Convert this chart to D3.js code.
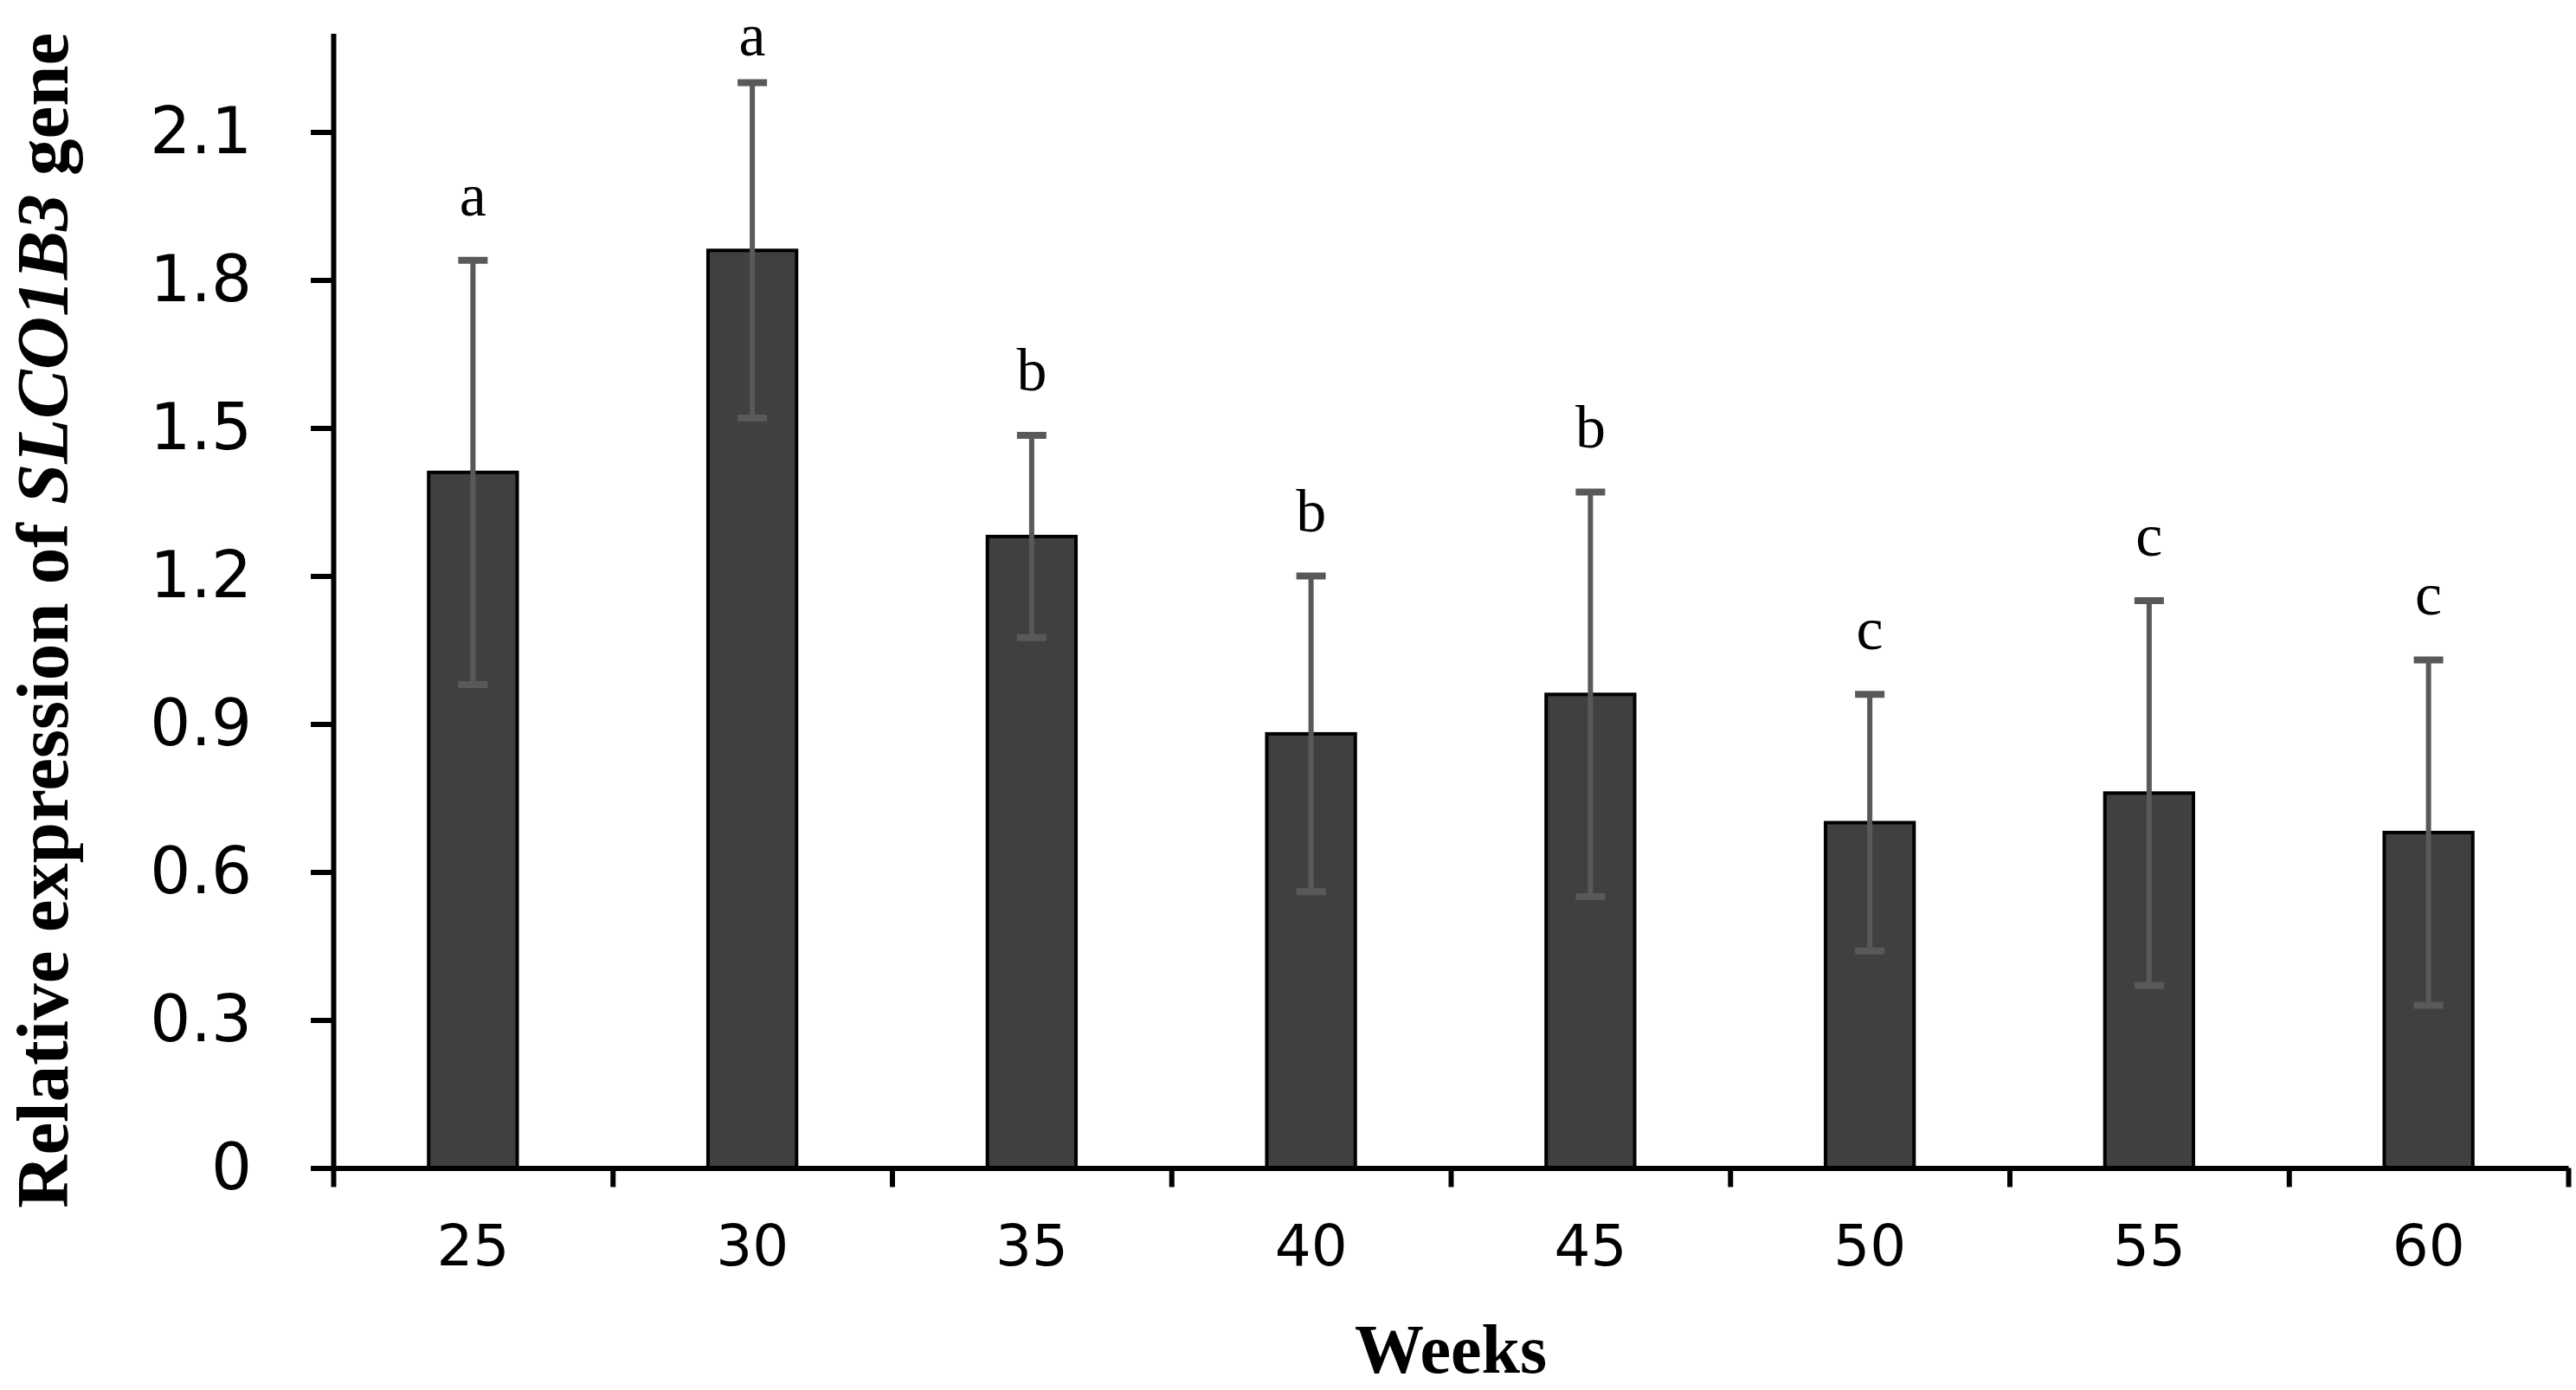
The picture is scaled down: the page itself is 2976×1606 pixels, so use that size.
<!DOCTYPE html>
<html>
<head>
<meta charset="utf-8">
<script src="https://cdn.jsdelivr.net/npm/d3@7/dist/d3.min.js"></script>
<style>
  html, body { margin: 0; padding: 0; background: #ffffff; }
  svg { display: block; }
</style>
</head>
<body>
<div id="chart"></div>
<script>
// ---- data ----
const weeks = ["25", "30", "35", "40", "45", "50", "55", "60"];
const means = [1.41, 1.86, 1.28, 0.88, 0.96, 0.70, 0.76, 0.68];
const errors = [0.43, 0.34, 0.205, 0.32, 0.41, 0.26, 0.39, 0.35];
const letters = ["a", "a", "b", "b", "b", "c", "c", "c"];
const yTicks = [0, 0.3, 0.6, 0.9, 1.2, 1.5, 1.8, 2.1];
const yTickLabels = ["0", "0.3", "0.6", "0.9", "1.2", "1.5", "1.8", "2.1"];

(function () {
const W = 2976, H = 1606;
const mLeft = 385, mRight = 2967, mTop = 38.5, mBottom = 1349.5;

const svg = d3.select("#chart").append("svg")
  .attr("width", W).attr("height", H)
  .attr("viewBox", `0 0 ${W} ${H}`);

const x = d3.scaleBand().domain(weeks).range([mLeft, mRight]).paddingInner(0.683).paddingOuter(0.3415);
const xEdges = d3.scaleLinear().domain([0, weeks.length]).range([mLeft, mRight]);
const y = d3.scaleLinear().domain([0, 2.3]).range([mBottom, mTop]);

// bars
svg.append("g").selectAll("rect").data(weeks).join("rect")
  .attr("x", d => x(d))
  .attr("y", (d, i) => y(means[i]))
  .attr("width", x.bandwidth())
  .attr("height", (d, i) => y(0) - y(means[i]))
  .attr("fill", "#404040")
  .attr("stroke", "#000")
  .attr("stroke-width", 4);

// error bars
const eb = svg.append("g").attr("stroke", "#595959").attr("stroke-width", 6).attr("fill", "none");
weeks.forEach((d, i) => {
  const cx = x(d) + x.bandwidth() / 2;
  const y1 = y(means[i] + errors[i]);
  const y0 = y(means[i] - errors[i]);
  eb.append("line").attr("x1", cx).attr("x2", cx).attr("y1", y1).attr("y2", y0);
  eb.append("line").attr("x1", cx - 17).attr("x2", cx + 17).attr("y1", y1).attr("y2", y1).attr("stroke-width", 8);
  eb.append("line").attr("x1", cx - 17).attr("x2", cx + 17).attr("y1", y0).attr("y2", y0).attr("stroke-width", 8);
});

// significance letters
svg.append("g").selectAll("text").data(weeks).join("text")
  .attr("x", d => x(d) + x.bandwidth() / 2)
  .attr("y", (d, i) => Math.max(y(means[i] + errors[i]) - 52, 64))
  .attr("text-anchor", "middle")
  .attr("font-family", "'Liberation Serif', 'Times New Roman', serif")
  .attr("font-size", 70)
  .attr("fill", "#000")
  .text((d, i) => letters[i]);

// y axis
const yAxis = d3.axisLeft(y).tickValues(yTicks)
  .tickFormat((d, i) => yTickLabels[i])
  .tickSize(26).tickSizeOuter(0).tickPadding(68);
const gy = svg.append("g").attr("transform", `translate(${mLeft},0)`).call(yAxis);
gy.select(".domain").attr("stroke", "#000").attr("stroke-width", 6);
gy.selectAll(".tick line").attr("stroke", "#000").attr("stroke-width", 6);
gy.selectAll(".tick text")
  .attr("font-family", "'DejaVu Sans', Verdana, sans-serif")
  .attr("font-size", 74)
  .attr("fill", "#000");

// x axis ticks at band edges
const xAxisEdges = d3.axisBottom(xEdges).tickValues(d3.range(weeks.length + 1))
  .tickFormat("").tickSize(22).tickSizeOuter(0);
const gx = svg.append("g").attr("transform", `translate(0,${mBottom})`).call(xAxisEdges);
gx.select(".domain").attr("stroke", "#000").attr("stroke-width", 6);
gx.selectAll(".tick line").attr("stroke", "#000").attr("stroke-width", 6);

// x labels
const xAxisLabels = d3.axisBottom(x).tickSize(0).tickPadding(66);
const gxl = svg.append("g").attr("transform", `translate(0,${mBottom})`).call(xAxisLabels);
gxl.select(".domain").remove();
gxl.selectAll(".tick text")
  .attr("font-family", "'DejaVu Sans', Verdana, sans-serif")
  .attr("font-size", 66)
  .attr("fill", "#000");

// axis titles
svg.append("text")
  .attr("x", (mLeft + mRight) / 2).attr("y", 1586)
  .attr("text-anchor", "middle")
  .attr("font-family", "'Liberation Serif', 'Times New Roman', serif")
  .attr("font-weight", "bold")
  .attr("font-size", 80)
  .attr("fill", "#000")
  .text("Weeks");

const yt = svg.append("text")
  .attr("transform", "translate(78,1396) rotate(-90)")
  .attr("text-anchor", "start")
  .attr("font-family", "'Liberation Serif', 'Times New Roman', serif")
  .attr("font-weight", "bold")
  .attr("font-size", 85)
  .attr("fill", "#000");
yt.append("tspan").text("Relative expression of ");
yt.append("tspan").attr("font-style", "italic").text("SLCO1B3");
yt.append("tspan").text(" gene");
})();
</script>
</body>
</html>
